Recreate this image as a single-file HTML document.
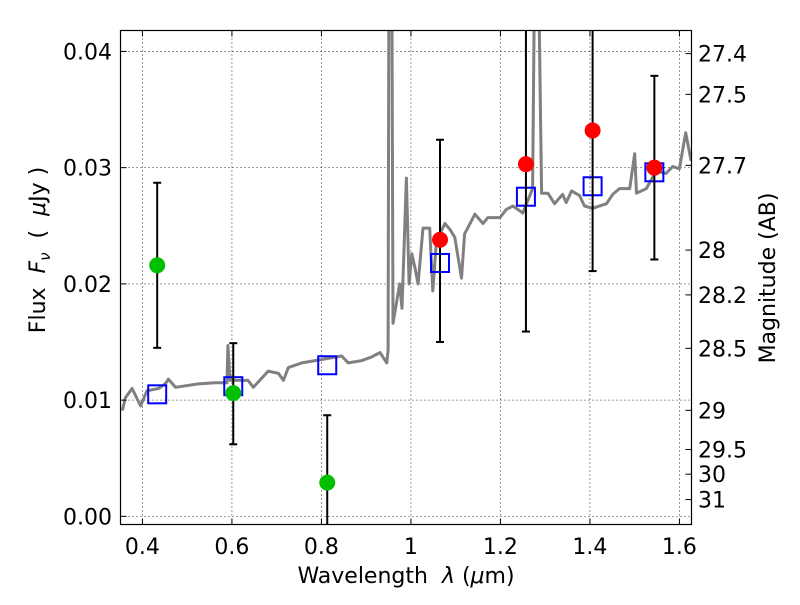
<!DOCTYPE html>
<html><head><meta charset="utf-8"><style>
body{margin:0;background:#fff;}
svg text{font-family:"DejaVu Sans","Liberation Sans",sans-serif;}
</style></head><body>
<svg id="chart" width="800" height="600" xmlns="http://www.w3.org/2000/svg">
<defs><clipPath id="clip"><rect x="121" y="31" width="570" height="493"/></clipPath></defs>
<g id="grid"></g>
<g id="spec" clip-path="url(#clip)"></g>
<g id="marks" clip-path="url(#clip)"></g>
<rect x="120.5" y="30.5" width="571" height="494" fill="none" stroke="#000" stroke-width="1.2"/>
<g id="axes"></g>
<text x="406" y="583" font-size="22" text-anchor="middle" xml:space="preserve">Wavelength  <tspan font-style="italic">λ</tspan> (<tspan font-style="italic">μ</tspan>m)</text>
<text transform="translate(45,250) rotate(-90)" font-size="22" text-anchor="middle" xml:space="preserve">Flux  <tspan font-style="italic">F</tspan><tspan font-style="italic" font-size="15" dy="5">ν</tspan><tspan dy="-5">  (  </tspan><tspan font-style="italic">μ</tspan>Jy )</text>
<text transform="translate(775,278) rotate(-90)" font-size="22" text-anchor="middle">Magnitude (AB)</text>
</svg>
<script>
const specWave=[0.355,0.362,0.377,0.396,0.410,0.436,0.451,0.458,0.474,0.525,0.563,0.589,0.591,0.596,0.636,0.648,0.681,0.704,0.715,0.726,0.756,0.786,0.845,0.86,0.89,0.912,0.931,0.946,0.949,0.951,0.957,0.960,0.975,0.980,0.990,0.996,1.002,1.009,1.016,1.027,1.042,1.049,1.057,1.076,1.087,1.098,1.113,1.120,1.143,1.161,1.172,1.199,1.213,1.228,1.250,1.272,1.277,1.284,1.292,1.306,1.321,1.339,1.347,1.359,1.377,1.388,1.406,1.437,1.451,1.466,1.489,1.500,1.504,1.526,1.548,1.570,1.585,1.600,1.614,1.626];
const specFlux=[0.0091,0.0102,0.0110,0.0095,0.0108,0.0110,0.0114,0.0118,0.0111,0.0114,0.0115,0.0115,0.0147,0.0117,0.0117,0.0111,0.0125,0.0123,0.0117,0.0128,0.0132,0.0134,0.0138,0.0132,0.0134,0.0137,0.0141,0.0132,0.0143,0.05,0.05,0.0166,0.0200,0.0179,0.0291,0.0200,0.0226,0.0214,0.0200,0.0248,0.0248,0.0194,0.0237,0.0252,0.0247,0.0240,0.0205,0.0243,0.0260,0.0252,0.0257,0.0257,0.0264,0.0267,0.0261,0.0282,0.05,0.05,0.0278,0.0278,0.0269,0.0277,0.0270,0.0280,0.0276,0.0267,0.0265,0.0269,0.0277,0.0282,0.0282,0.0312,0.0278,0.0282,0.0297,0.0295,0.0301,0.0299,0.0330,0.0306];
const greenWave=[0.433,0.603,0.813];
const greenFlux=[0.0216,0.0106,0.0029];
const greenLo=[0.0145,0.0062,-0.005];
const greenHi=[0.0287,0.0149,0.0087];
const redWave=[1.065,1.257,1.406,1.544];
const redFlux=[0.0238,0.0303,0.0332,0.0300];
const redLo=[0.0150,0.0159,0.0211,0.0221];
const redHi=[0.0324,0.05,0.05,0.0379];
const modelWave=[0.433,0.603,0.813,1.065,1.257,1.406,1.544];
const modelFlux=[0.0105,0.0112,0.0130,0.0218,0.0275,0.0284,0.0296];
const xTicks=[0.4,0.6,0.8,1.0,1.2,1.4,1.6];
const xTickLabels=["0.4","0.6","0.8","1","1.2","1.4","1.6"];
const yTicks=[0,0.01,0.02,0.03,0.04];
const yTickLabels=["0.00","0.01","0.02","0.03","0.04"];
const magTicks=[27.4,27.5,27.7,28,28.2,28.5,29,29.5,30,31];
const magLabels=["27.4","27.5","27.7","28","28.2","28.5","29","29.5","30","31"];

const X0=120.5,X1=691.5,Y0=30.5,Y1=524.5;
const xmin=0.351,xmax=1.627,ymin=-0.0007,ymax=0.0418;
const sx=v=>X0+(v-xmin)/(xmax-xmin)*(X1-X0);
const sy=v=>Y1-(v-ymin)/(ymax-ymin)*(Y1-Y0);
const magToFlux=m=>Math.pow(10,(23.9-m)/2.5);
const NS="http://www.w3.org/2000/svg";
function mk(tag,attrs,parent){const e=document.createElementNS(NS,tag);for(const k in attrs)e.setAttribute(k,attrs[k]);parent.appendChild(e);return e;}
const grid=document.getElementById('grid'),axes=document.getElementById('axes'),spec=document.getElementById('spec'),marks=document.getElementById('marks');

xTicks.forEach((t,i)=>{
  const x=sx(t);
  const g=mk('line',{x1:x,x2:x,y1:Y0,y2:Y1,stroke:'#000','stroke-width':0.8,'stroke-dasharray':'1,3'},grid);
  
  
  const a=mk('line',{x1:x,x2:x,y1:Y1,y2:Y1-6,stroke:'#000','stroke-width':1},axes);
  
  
  const b=mk('line',{x1:x,x2:x,y1:Y0,y2:Y0+6,stroke:'#000','stroke-width':1},axes);
  
  
  const l=mk('text',{x:x,y:554,'font-size':22,'text-anchor':'middle'},axes);
  l.textContent=xTickLabels[i];
  
  
});
yTicks.forEach((t,i)=>{
  const y=sy(t);
  const g=mk('line',{x1:X0,x2:X1,y1:y,y2:y,stroke:'#000','stroke-width':0.8,'stroke-dasharray':'1,3'},grid);
  
  
  const a=mk('line',{x1:X0,x2:X0+6,y1:y,y2:y,stroke:'#000','stroke-width':1},axes);
  
  
  const l=mk('text',{x:112,y:y+8,'font-size':22,'text-anchor':'end'},axes);
  l.textContent=yTickLabels[i];
  
  
});
magTicks.forEach((m,i)=>{
  const y=sy(magToFlux(m));
  const a=mk('line',{x1:X1-6,x2:X1,y1:y,y2:y,stroke:'#000','stroke-width':1},axes);
  
  
  const l=mk('text',{x:698,y:y+8,'font-size':22,'text-anchor':'start'},axes);
  l.textContent=magLabels[i];
  
  
});

const pts=specWave.map((w,i)=>sx(w).toFixed(1)+','+sy(specFlux[i]).toFixed(1)).join(' ');
const sp=mk('polyline',{points:pts,fill:'none',stroke:'#808080','stroke-width':3,'stroke-linejoin':'round'},spec);



function errbar(w,lo,hi){
  const x=sx(w),y1=sy(lo),y2=sy(hi);
  const e=mk('line',{x1:x,x2:x,y1:y1,y2:y2,stroke:'#000','stroke-width':2},marks);
  
  
  [y1,y2].forEach(y=>{
    const c=mk('line',{x1:x-4,x2:x+4,y1:y,y2:y,stroke:'#000','stroke-width':2},marks);
    
    
  });
}
modelWave.forEach((w,i)=>{
  const r=mk('rect',{x:sx(w)-9,y:sy(modelFlux[i])-9,width:18,height:18,fill:'none',stroke:'#0000ff','stroke-width':2},marks);
  
  
});
greenWave.forEach((w,i)=>{
  errbar(w,greenLo[i],greenHi[i]);
  const c=mk('circle',{cx:sx(w),cy:sy(greenFlux[i]),r:8,fill:'#00bf00'},marks);
  
  
});
redWave.forEach((w,i)=>{
  errbar(w,redLo[i],redHi[i]);
  const c=mk('circle',{cx:sx(w),cy:sy(redFlux[i]),r:8,fill:'#ff0000'},marks);
  
  
});
</script>
</body></html>
